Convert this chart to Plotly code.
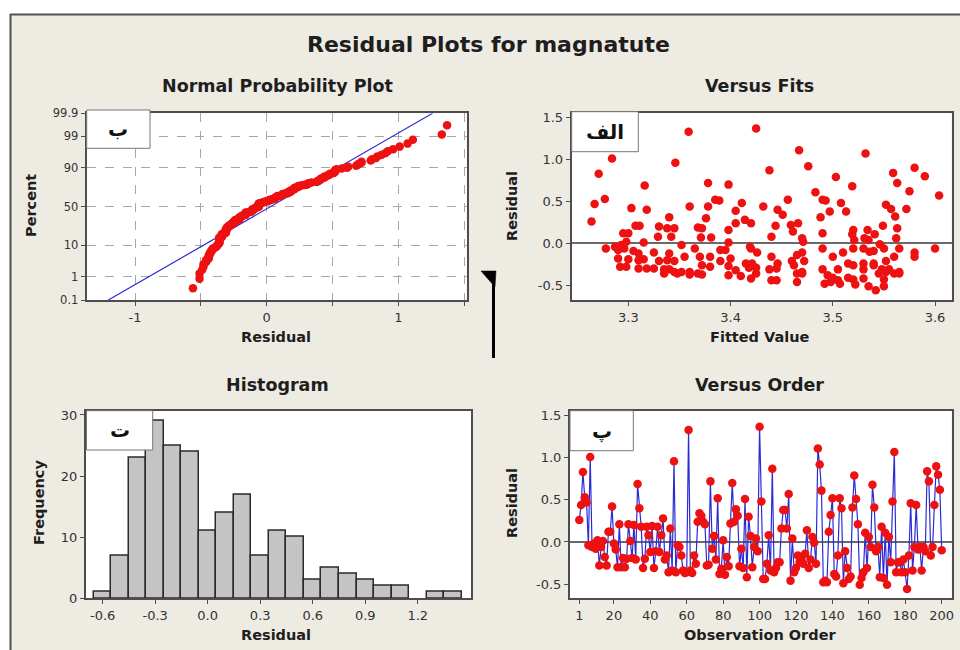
import plotly.graph_objects as go
from statistics import NormalDist, mean, stdev

# Residuals in observation order
residuals = [
    0.26, 0.44, 0.83, 0.53, 0.47, -0.04, 1.01, -0.06, -0.02, -0.08,
    0.02, -0.28, -0.06, 0.01, -0.18, -0.28, 0.12, 0.12, 0.42, -0.02,
    -0.09, -0.30, 0.21, -0.30, -0.19, -0.30, -0.20, 0.21, 0.01, -0.19,
    0.20, -0.21, 0.69, 0.40, 0.18, -0.31, -0.20, 0.18, 0.08, -0.12,
    0.19, -0.31, -0.11, 0.18, -0.12, 0.08, 0.28, -0.21, -0.16, -0.36,
    0.16, -0.34, 0.96, -0.36, -0.04, -0.06, -0.16, -0.34, -0.37, -0.36,
    1.33, -0.34, -0.37, -0.16, -0.26, 0.24, 0.34, 0.31, 0.24, 0.21,
    -0.28, -0.27, 0.72, -0.08, 0.07, -0.21, 0.52, -0.38, -0.32, 0.02,
    -0.39, -0.18, -0.29, 0.22, 0.70, 0.24, 0.39, 0.31, -0.29, -0.08,
    -0.31, 0.51, -0.42, 0.30, 0.07, -0.30, -0.06, 0.04, -0.11, 1.37,
    0.48, -0.44, -0.44, -0.26, 0.08, -0.34, 0.87, -0.36, -0.31, -0.24,
    -0.24, 0.16, 0.38, 0.38, 0.16, 0.57, -0.46, 0.04, -0.36, -0.31,
    -0.16, -0.24, -0.21, -0.26, -0.14, 0.14, -0.31, -0.21, 0.06, -0.01,
    -0.26, 1.11, 0.92, 0.61, -0.48, -0.46, -0.48, 0.12, 0.32, 0.52,
    -0.38, -0.41, -0.16, 0.52, 0.40, -0.49, -0.11, -0.31, -0.44, -0.41,
    0.41, 0.79, 0.51, 0.21, -0.51, -0.43, -0.36, 0.11, -0.31, 0.06,
    -0.06, 0.68, 0.41, -0.11, -0.06, -0.42, 0.18, -0.43, 0.11, -0.51,
    0.06, -0.24, 0.48, 1.07, -0.36, -0.24, -0.24, -0.36, -0.21, -0.36,
    -0.56, -0.16, 0.46, -0.34, -0.06, 0.44, -0.09, -0.06, -0.34, -0.06,
    -0.11, 0.84, 0.72, -0.16, -0.06, 0.44, 0.90, 0.80, 0.62, -0.10,
]

# Fitted values in observation order
fitted = [
    3.264, 3.432, 3.271, 3.277, 3.267, 3.287, 3.284, 3.278, 3.293, 3.290,
    3.298, 3.292, 3.296, 3.315, 3.290, 3.298, 3.295, 3.300, 3.303, 3.352,
    3.305, 3.310, 3.307, 3.318, 3.300, 3.325, 3.310, 3.311, 3.398, 3.315,
    3.330, 3.330, 3.316, 3.318, 3.338, 3.335, 3.338, 3.345, 3.329, 3.310,
    3.368, 3.340, 3.325, 3.372, 3.340, 3.342, 3.414, 3.345, 3.355, 3.335,
    3.398, 3.345, 3.346, 3.348, 3.419, 3.365, 3.370, 3.352, 3.360, 3.368,
    3.359, 3.360, 3.372, 3.380, 3.372, 3.405, 3.451, 3.488, 3.420, 3.444,
    3.380, 3.398, 3.378, 3.390, 3.371, 3.390, 3.385, 3.398, 3.405, 3.471,
    3.410, 3.400, 3.418, 3.459, 3.398, 3.466, 3.405, 3.340, 3.425, 3.395,
    3.438, 3.389, 3.420, 3.376, 3.381, 3.445, 3.420, 3.521, 3.426, 3.425,
    3.411, 3.440, 3.445, 3.462, 3.440, 3.470, 3.438, 3.465, 3.490, 3.415,
    3.421, 3.520, 3.497, 3.513, 3.534, 3.604, 3.465, 3.535, 3.470, 3.505,
    3.440, 3.446, 3.460, 3.520, 3.465, 3.461, 3.530, 3.472, 3.470, 3.546,
    3.540, 3.467, 3.476, 3.483, 3.492, 3.498, 3.507, 3.490, 3.561, 3.456,
    3.495, 3.500, 3.500, 3.490, 3.446, 3.522, 3.470, 3.548, 3.505, 3.515,
    3.557, 3.503, 3.493, 3.549, 3.535, 3.520, 3.545, 3.519, 3.555, 3.531,
    3.490, 3.519, 3.572, 3.510, 3.520, 3.530, 3.563, 3.550, 3.541, 3.550,
    3.562, 3.515, 3.508, 3.532, 3.560, 3.530, 3.540, 3.565, 3.552, 3.425,
    3.542, 3.560, 3.552, 3.565, 3.530, 3.360, 3.540, 3.550, 3.552, 3.565,
    3.580, 3.559, 3.563, 3.580, 3.600, 3.378, 3.580, 3.590, 3.575, 3.536,
]

observation = list(range(1, len(residuals) + 1))

pct_ticks = [0.1, 1, 10, 50, 90, 99, 99.9]
pct_labels = ["0.1", "1", "10", "50", "90", "99", "99.9"]
npp_x_ticks = [-1, -0.5, 0, 0.5, 1, 1.5]
npp_x_labels = ["-1", "", "0", "", "1", ""]
fit_ticks = [3.3, 3.4, 3.5, 3.6]
fit_labels = ["3.3", "3.4", "3.5", "3.6"]
resid_ticks = [-0.5, 0.0, 0.5, 1.0, 1.5]
resid_labels = ["-0.5", "0.0", "0.5", "1.0", "1.5"]
hist_x_ticks = [-0.6, -0.3, 0.0, 0.3, 0.6, 0.9, 1.2]
hist_x_labels = ["-0.6", "-0.3", "0.0", "0.3", "0.6", "0.9", "1.2"]
hist_y_ticks = [0, 10, 20, 30]
order_ticks = [1, 20, 40, 60, 80, 100, 120, 140, 160, 180, 200]

W, H = 960, 650
FONT = "DejaVu Sans"
PANEL = "#eeebe3"
FRAME = "#4d4d4d"
RED = "#ee1111"
BLUE = "#2b2bd6"


def px(x):
    return x / W


def py(y):
    return 1 - y / H


# Normal probability plot: median-rank plotting positions on a normal scale
nd = NormalDist()
n = len(residuals)
sorted_res = sorted(residuals)
z_pos = [nd.inv_cdf((i + 1 - 0.3) / (n + 0.4)) for i in range(n)]
pct_z = [nd.inv_cdf(p / 100) for p in pct_ticks]
mu, sd = mean(residuals), stdev(residuals)
z_lo, z_hi = pct_z[0], pct_z[-1]

fig = go.Figure()

fig.add_trace(go.Scatter(
    x=[mu + sd * z_lo, mu + sd * z_hi], y=[z_lo, z_hi], mode="lines",
    line=dict(color=BLUE, width=1.2), xaxis="x", yaxis="y", hoverinfo="skip"))
fig.add_trace(go.Scatter(
    x=sorted_res, y=z_pos, mode="markers",
    marker=dict(color=RED, size=8.5), xaxis="x", yaxis="y"))

fig.add_trace(go.Scatter(
    x=fitted, y=residuals, mode="markers",
    marker=dict(color=RED, size=8.5), xaxis="x2", yaxis="y2"))

fig.add_trace(go.Histogram(
    x=residuals, xbins=dict(start=-0.65, end=1.45, size=0.1),
    marker=dict(color="#c4c4c4", line=dict(color="#2a2a2a", width=1.5)),
    xaxis="x3", yaxis="y3"))

fig.add_trace(go.Scatter(
    x=observation, y=residuals, mode="lines+markers",
    line=dict(color=BLUE, width=1.2),
    marker=dict(color=RED, size=8.5), xaxis="x4", yaxis="y4"))

tickfont = dict(family=FONT, size=13, color="#333333")
frame = dict(showline=True, linecolor=FRAME, linewidth=2, mirror=True,
             ticks="outside", ticklen=4, tickcolor=FRAME, tickfont=tickfont,
             zeroline=False, showgrid=False, automargin=False)

npp_dom_x = [px(86.7), px(466.7)]
fit_dom_x = [px(571.7), px(951.7)]
hist_dom_x = [px(86), px(471)]
ord_dom_x = [px(570), px(951.7)]
top_dom_y = [py(300), py(113.3)]
bot_dom_y = [py(598.3), py(410.7)]

fig.update_layout(
    width=W, height=H,
    margin=dict(l=0, r=0, t=0, b=0, pad=0, autoexpand=False),
    paper_bgcolor=PANEL, plot_bgcolor="white", showlegend=False,
    bargap=0,
    xaxis=dict(frame, domain=npp_dom_x, anchor="y", range=[-1.367, 1.519],
               tickvals=npp_x_ticks, ticktext=npp_x_labels,
               showgrid=True, gridcolor="#a8a8a8", griddash="dash", gridwidth=1),
    yaxis=dict(frame, domain=top_dom_y, anchor="x", range=[z_lo, z_hi],
               tickvals=pct_z, ticktext=pct_labels,
               tickfont=dict(family=FONT, size=11.5, color="#333333"),
               showgrid=True, gridcolor="#a8a8a8", griddash="dash", gridwidth=1),
    xaxis2=dict(frame, domain=fit_dom_x, anchor="y2", range=[3.2446, 3.6163],
                tickvals=fit_ticks, ticktext=fit_labels),
    yaxis2=dict(frame, domain=top_dom_y, anchor="x2", range=[-0.675, 1.55],
                tickvals=resid_ticks, ticktext=resid_labels,
                zeroline=True, zerolinecolor="#6a6a6a", zerolinewidth=1.5),
    xaxis3=dict(frame, domain=hist_dom_x, anchor="y3", range=[-0.695, 1.504],
                tickvals=hist_x_ticks, ticktext=hist_x_labels),
    yaxis3=dict(frame, domain=bot_dom_y, anchor="x3", range=[0, 30.7],
                tickvals=hist_y_ticks),
    xaxis4=dict(frame, domain=ord_dom_x, anchor="y4", range=[-4.1, 205.5],
                tickvals=order_ticks),
    yaxis4=dict(frame, domain=bot_dom_y, anchor="x4", range=[-0.67, 1.56],
                tickvals=resid_ticks, ticktext=resid_labels,
                zeroline=True, zerolinecolor="#6a6a6a", zerolinewidth=1.5),
)

shapes = [
    # white margin strips and the panel border
    dict(type="rect", xref="paper", yref="paper", x0=0, x1=1, y0=py(14), y1=1,
         fillcolor="white", line=dict(width=0), layer="below"),
    dict(type="rect", xref="paper", yref="paper", x0=0, x1=px(10), y0=0, y1=1,
         fillcolor="white", line=dict(width=0), layer="below"),
    dict(type="line", xref="paper", yref="paper", x0=px(10), x1=1, y0=py(14.5), y1=py(14.5),
         line=dict(color="#505050", width=2)),
    dict(type="line", xref="paper", yref="paper", x0=px(10.5), x1=px(10.5), y0=0, y1=py(14),
         line=dict(color="#505050", width=2)),
    # small marker between the columns
    dict(type="path", xref="paper", yref="paper",
         path=f"M {px(481)},{py(271)} L {px(496)},{py(271)} L {px(495)},{py(287)} Z",
         fillcolor="black", line=dict(color="black", width=0.5)),
    dict(type="line", xref="paper", yref="paper", x0=px(493.5), x1=px(493.5),
         y0=py(284), y1=py(358), line=dict(color="black", width=3)),
]

# label boxes in the corners of each panel
boxes = [
    ((86.7, 110, 150, 148.3), "ب"),
    ((571.7, 111.7, 638.3, 151.7), "الف"),
    ((86.5, 410.7, 152.7, 450), "ت"),
    ((570, 410.7, 633.3, 450.7), "پ"),
]
annotations = []
for (x0, y0, x1, y1), letter in boxes:
    shapes.append(dict(type="rect", xref="paper", yref="paper",
                       x0=px(x0), x1=px(x1), y0=py(y1), y1=py(y0),
                       fillcolor="white", line=dict(color="#777777", width=1),
                       layer="above"))
    annotations.append(dict(xref="paper", yref="paper", x=px((x0 + x1) / 2),
                            y=py((y0 + y1) / 2), text=f"<b>{letter}</b>",
                            showarrow=False, xanchor="center", yanchor="middle",
                            font=dict(family=FONT, size=20, color="#111111")))


def label(text, x, y, size, angle=0):
    annotations.append(dict(xref="paper", yref="paper", x=px(x), y=py(y),
                            text=f"<b>{text}</b>", showarrow=False,
                            xanchor="center", yanchor="middle", textangle=angle,
                            font=dict(family=FONT, size=size, color="#1e1e1e")))


label("Residual Plots for magnatute", 488, 44, 22)
label("Normal Probability Plot", 277, 86, 17.5)
label("Versus Fits", 759, 86, 17.5)
label("Histogram", 277, 385, 17.5)
label("Versus Order", 759, 385, 17.5)
label("Residual", 276, 337, 14.5)
label("Fitted Value", 760, 337, 14.5)
label("Residual", 276, 635, 14.5)
label("Observation Order", 760, 635, 14.5)
label("Percent", 31, 206, 14.5, -90)
label("Residual", 512, 206, 14.5, -90)
label("Frequency", 39, 503, 14.5, -90)
label("Residual", 512, 503, 14.5, -90)

fig.update_layout(shapes=shapes, annotations=annotations)
fig.write_html("out.html")
